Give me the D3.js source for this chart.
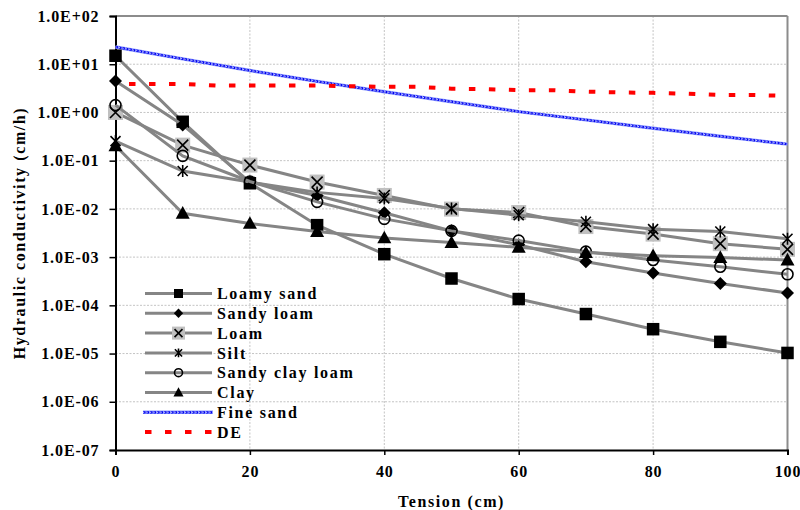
<!DOCTYPE html>
<html>
<head>
<meta charset="utf-8">
<script src="https://cdn.jsdelivr.net/npm/d3@7/dist/d3.min.js"></script>
<style>
  html, body { margin: 0; padding: 0; background: #fff; }
  svg { display: block; }
  text { font-family: "Liberation Serif", "Times New Roman", serif; font-weight: bold; fill: #000; }
</style>
</head>
<body>
<svg id="chart" width="800" height="510"></svg>
<script>
// ---------------- DATA ----------------
const tension = [0, 10, 20, 30, 40, 50, 60, 70, 80, 90, 100];
const loamySand = [15.0, 0.64, 0.034, 0.0046, 0.00115, 3.6e-4, 1.35e-4, 6.6e-5, 3.2e-5, 1.75e-5, 1.03e-5];
const sandyLoam = [4.5, 0.55, 0.036, 0.019, 0.0083, 0.0035, 0.0018, 8.0e-4, 4.7e-4, 2.85e-4, 1.8e-4];
const loam = [1.0, 0.21, 0.081, 0.036, 0.019, 0.0099, 0.0084, 0.0043, 0.0030, 0.0019, 0.00145];
const silt = [0.255, 0.061, 0.036, 0.022, 0.0165, 0.0102, 0.0074, 0.0054, 0.0038, 0.0034, 0.0024];
const sandyClayLoam = [1.42, 0.126, 0.037, 0.014, 0.0062, 0.0035, 0.0022, 0.0013, 8.7e-4, 6.3e-4, 4.4e-4];
const clay = [0.204, 0.0081, 0.005, 0.0034, 0.0025, 0.002, 0.0016, 0.00124, 0.00107, 9.8e-4, 8.7e-4];
const fineSand = [22.8, 12.9, 7.4, 4.4, 2.69, 1.67, 1.04, 0.70, 0.47, 0.32, 0.22];
const deTension = [0, 5, 10, 15, 20, 25, 30, 35, 40, 45, 50, 55, 60, 65, 70, 75, 80, 85, 90, 95, 100];
const de = [3.9, 3.9, 3.9, 3.6, 3.6, 3.6, 3.6, 3.5, 3.4, 3.4, 3.1, 3.05, 2.9, 2.9, 2.7, 2.6, 2.55, 2.45, 2.3, 2.3, 2.2];

const seriesNames = ["Loamy sand", "Sandy loam", "Loam", "Silt", "Sandy clay loam", "Clay", "Fine sand", "DE"];
const xTicks = [0, 20, 40, 60, 80, 100];
const yTicks = [1e-7, 1e-6, 1e-5, 1e-4, 1e-3, 1e-2, 1e-1, 1e0, 1e1, 1e2];
const yTickLabels = ["1.0E-07", "1.0E-06", "1.0E-05", "1.0E-04", "1.0E-03", "1.0E-02", "1.0E-01", "1.0E+00", "1.0E+01", "1.0E+02"];
const xTitle = "Tension (cm)";
const yTitle = "Hydraulic conductivity (cm/h)";

// ---------------- LAYOUT ----------------
const L = 115.5, R = 787.5, T = 16, B = 450;
const svg = d3.select("#chart");
const x = d3.scaleLinear().domain([0, 100]).range([L, R]);
const y = d3.scaleLog().domain([1e-7, 1e2]).range([B, T]);

// gridlines
const grid = svg.append("g");
grid.selectAll("line.h").data(yTicks.slice(1, -1)).enter().append("line")
  .attr("x1", L).attr("x2", R).attr("y1", d => y(d)).attr("y2", d => y(d))
  .attr("stroke", "#c4c4c4").attr("stroke-width", 1).attr("stroke-dasharray", "2,1.5");
grid.selectAll("line.v").data(xTicks.slice(1, -1)).enter().append("line")
  .attr("y1", T).attr("y2", B).attr("x1", d => x(d)).attr("x2", d => x(d))
  .attr("stroke", "#c4c4c4").attr("stroke-width", 1).attr("stroke-dasharray", "2,1.5");

// frame top/right
svg.append("line").attr("x1", L).attr("x2", R).attr("y1", T).attr("y2", T).attr("stroke", "#8c8c8c").attr("stroke-width", 2);
svg.append("line").attr("x1", R).attr("x2", R).attr("y1", T).attr("y2", B).attr("stroke", "#8c8c8c").attr("stroke-width", 2);

// axes
const yAxis = d3.axisLeft(y).tickValues(yTicks).tickFormat((d, i) => yTickLabels[i]).tickSize(6).tickPadding(10);
const gy = svg.append("g").attr("transform", `translate(${L},0)`).call(yAxis);
gy.select(".domain").attr("stroke", "#000").attr("stroke-width", 2);
gy.selectAll(".tick line").attr("stroke", "#000").attr("stroke-width", 1.5);
gy.selectAll(".tick text").style("font-size", "16px").style("letter-spacing", "0.9px")
  .style("font-family", "'Liberation Serif', serif").style("font-weight", "bold").attr("fill", "#000");

const xAxis = d3.axisBottom(x).tickValues(xTicks).tickFormat(d3.format("d")).tickSize(5).tickPadding(11);
const gx = svg.append("g").attr("transform", `translate(0,${B})`).call(xAxis);
gx.select(".domain").attr("stroke", "#000").attr("stroke-width", 2);
gx.selectAll(".tick line").attr("stroke", "#000").attr("stroke-width", 1.5);
gx.selectAll(".tick text").style("font-size", "16px").style("letter-spacing", "0.9px")
  .style("font-family", "'Liberation Serif', serif").style("font-weight", "bold").attr("fill", "#000");

// titles
svg.append("text").attr("x", (L + R) / 2).attr("y", 507).attr("text-anchor", "middle")
  .style("font-size", "16px").style("letter-spacing", "1.6px").text(xTitle);
svg.append("text").attr("transform", `translate(25,${(T + B) / 2}) rotate(-90)`).attr("text-anchor", "middle")
  .style("font-size", "16px").style("letter-spacing", "1.6px").text(yTitle);

// ---------------- MARKERS ----------------
function drawMarker(g, type, cx, cy, s) {
  if (type === "square") {
    const w = 12.5 * s;
    g.append("rect").attr("x", cx - w / 2).attr("y", cy - w / 2).attr("width", w).attr("height", w).attr("fill", "#000");
  } else if (type === "diamond") {
    const h = 6.5 * s;
    g.append("path").attr("d", `M${cx},${cy - h}L${cx + h},${cy}L${cx},${cy + h}L${cx - h},${cy}Z`).attr("fill", "#000");
  } else if (type === "loam") {
    const w = (s < 1 ? 13 : 15);
    g.append("rect").attr("x", cx - w / 2).attr("y", cy - w / 2).attr("width", w).attr("height", w).attr("fill", "#c0c0c0");
    const h = 5.5 * s;
    g.append("path").attr("d", `M${cx - h},${cy - h}L${cx + h},${cy + h}M${cx + h},${cy - h}L${cx - h},${cy + h}`)
      .attr("stroke", "#000").attr("stroke-width", 1.6).attr("fill", "none");
  } else if (type === "star") {
    const h = 5 * s;
    g.append("path").attr("d", `M${cx - h},${cy - h}L${cx + h},${cy + h}M${cx + h},${cy - h}L${cx - h},${cy + h}M${cx},${cy - h * 1.2}L${cx},${cy + h * 1.2}`)
      .attr("stroke", "#000").attr("stroke-width", 1.6).attr("fill", "none");
  } else if (type === "circle") {
    g.append("circle").attr("cx", cx).attr("cy", cy).attr("r", 5.5 * s).attr("fill", "none")
      .attr("stroke", "#000").attr("stroke-width", 1.6);
  } else if (type === "triangle") {
    const w = 7 * s, h = 12 * s;
    g.append("path").attr("d", `M${cx},${cy - h * 0.6}L${cx + w},${cy + h * 0.45}L${cx - w},${cy + h * 0.45}Z`).attr("fill", "#000");
  }
}

const soilSeries = [
  { name: seriesNames[0], values: loamySand, marker: "square" },
  { name: seriesNames[1], values: sandyLoam, marker: "diamond" },
  { name: seriesNames[2], values: loam, marker: "loam" },
  { name: seriesNames[3], values: silt, marker: "star" },
  { name: seriesNames[4], values: sandyClayLoam, marker: "circle" },
  { name: seriesNames[5], values: clay, marker: "triangle" }
];

const line = d3.line().x(d => x(d[0])).y(d => y(d[1]));

function fineSandStroke(g, d) {
  g.append("path").attr("d", d).attr("fill", "none").attr("stroke", "#8f9cff").attr("stroke-width", 3.4);
  g.append("path").attr("d", d).attr("fill", "none").attr("stroke", "#0000ee").attr("stroke-width", 2.2)
    .attr("stroke-dasharray", "2.5,1");
  g.append("path").attr("d", d).attr("fill", "none").attr("stroke", "#e6e9ff").attr("stroke-width", 0.9)
    .attr("stroke-dasharray", "1.2,2.3");
}

const plot = svg.append("g");
// Fine sand
const fsPts = tension.map((t, i) => [t, fineSand[i]]);
fineSandStroke(plot, line(fsPts));
// DE
const dePts = deTension.map((t, i) => [t, de[i]]);
plot.append("path").attr("d", line(dePts)).attr("fill", "none").attr("stroke", "#ff0000").attr("stroke-width", 4)
  .attr("stroke-dasharray", "6.5,13.5").attr("stroke-dashoffset", 6.5);

soilSeries.forEach(s => {
  const pts = tension.map((t, i) => [t, s.values[i]]);
  const g = plot.append("g");
  g.append("path").attr("d", line(pts)).attr("fill", "none").attr("stroke", "#858585").attr("stroke-width", 3);
  pts.forEach(p => drawMarker(g, s.marker, x(p[0]), y(p[1]), 1));
});

// ---------------- LEGEND ----------------
const leg = svg.append("g");
const legY0 = 293.5, legDy = 19.8, lx1 = 145, lx2 = 212, lxm = 178.5, ltx = 217;
soilSeries.forEach((s, i) => {
  const yy = legY0 + i * legDy;
  leg.append("line").attr("x1", lx1).attr("x2", lx2).attr("y1", yy).attr("y2", yy).attr("stroke", "#858585").attr("stroke-width", 3);
  drawMarker(leg, s.marker, lxm, yy, 0.72);
  leg.append("text").attr("x", ltx).attr("y", yy).attr("dy", "0.35em").style("font-size", "16px").style("letter-spacing", "1.7px").text(s.name);
});
{
  const yy = legY0 + 6 * legDy;
  fineSandStroke(leg, `M143,${yy}L213,${yy}`);
  leg.append("text").attr("x", ltx).attr("y", yy).attr("dy", "0.35em").style("font-size", "16px").style("letter-spacing", "1.7px").text(seriesNames[6]);
}
{
  const yy = legY0 + 7 * legDy;
  leg.append("line").attr("x1", 145).attr("x2", 213).attr("y1", yy).attr("y2", yy).attr("stroke", "#ff0000").attr("stroke-width", 4).attr("stroke-dasharray", "6.5,13.5");
  leg.append("text").attr("x", ltx).attr("y", yy).attr("dy", "0.35em").style("font-size", "16px").style("letter-spacing", "1.7px").text(seriesNames[7]);
}
</script>
</body>
</html>
